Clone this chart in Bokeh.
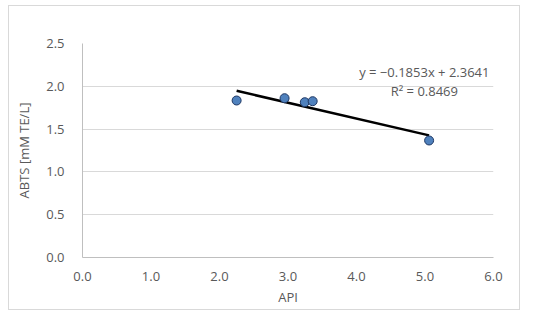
from bokeh.plotting import figure
from bokeh.models import Range1d, FixedTicker, Label, CustomJSTickFormatter
from bokeh.embed import file_html
from bokeh.resources import INLINE

api = [2.25, 2.95, 3.245, 3.36, 5.06]
abts = [1.834, 1.861, 1.814, 1.826, 1.367]
slope = -0.1853
intercept = 2.3641
eq_text = "y = \u22120.1853x + 2.3641"
r2_text = "R\u00b2 = 0.8469"
x_ticks = [0, 1, 2, 3, 4, 5, 6]
y_ticks = [0, 0.5, 1.0, 1.5, 2.0, 2.5]

FONT = "Open Sans"
TXT = "#595959"

p = figure(width=512, height=305, output_backend="svg", toolbar_location=None,
           x_range=Range1d(0, 6), y_range=Range1d(0, 2.5),
           min_border_left=73, min_border_right=28, min_border_top=37, min_border_bottom=54)
p.styles = {"border": "1px solid #d9d9d9", "margin-left": "8px", "margin-top": "5px"}
p.outline_line_color = None

p.xgrid.grid_line_color = None
p.ygrid.grid_line_color = "#d9d9d9"
p.ygrid.ticker = FixedTicker(ticks=y_ticks)

p.xaxis.ticker = FixedTicker(ticks=x_ticks)
p.yaxis.ticker = FixedTicker(ticks=y_ticks)
p.xaxis.formatter = CustomJSTickFormatter(code="return tick.toFixed(1);")
p.yaxis.formatter = CustomJSTickFormatter(code="return tick.toFixed(1);")

for ax in (p.xaxis[0], p.yaxis[0]):
    ax.axis_line_color = "#bfbfbf"
    ax.major_tick_line_color = None
    ax.minor_tick_line_color = None
    ax.major_label_text_font = FONT
    ax.major_label_text_font_size = "13px"
    ax.major_label_text_color = TXT
    ax.axis_label_text_font = FONT
    ax.axis_label_text_font_size = "13px"
    ax.axis_label_text_color = TXT
    ax.axis_label_text_font_style = "normal"

p.xaxis.axis_label = "API"
p.yaxis.axis_label = "ABTS [mM TE/L]"
p.xaxis.major_label_standoff = 8
p.xaxis.axis_label_standoff = 4
p.yaxis.major_label_standoff = 12
p.yaxis.axis_label_standoff = 10

xs = [min(api), max(api)]
ys = [slope * x + intercept for x in xs]
p.line(xs, ys, line_color="black", line_width=2.5)

p.scatter(api, abts, size=9, fill_color="#4f81bd", line_color="#1f3864", line_width=1)

p.add_layout(Label(x=4.99, y=2.17, text=eq_text, text_align="center", text_baseline="middle",
                   text_font=FONT, text_font_size="13px", text_color=TXT))
p.add_layout(Label(x=4.99, y=1.95, text=r2_text, text_align="center", text_baseline="middle",
                   text_font=FONT, text_font_size="13px", text_color=TXT))

open("out.html", "w").write(file_html(p, INLINE))
